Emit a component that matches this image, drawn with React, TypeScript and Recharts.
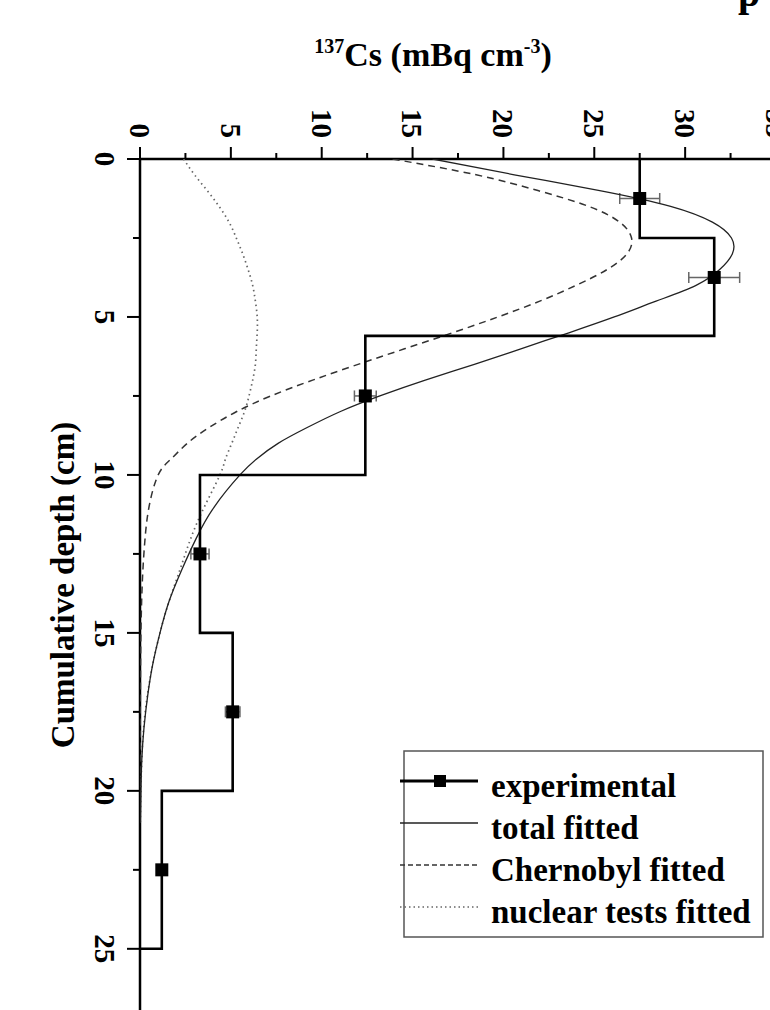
import React from "react";
import { ScatterChart, Scatter, XAxis, YAxis, ErrorBar } from "recharts";

// measured layers (cm) and 137Cs activity (mBq cm-3)
const LAYER_TOPS = [0, 2.5, 5.6, 10, 15, 20];
const LAYER_BOTTOMS = [2.5, 5.6, 10, 15, 20, 25];
const LAYER_ACTIVITY = [27.5, 31.6, 12.4, 3.3, 5.1, 1.2];
const SAMPLE_DEPTH = [1.25, 3.75, 7.5, 12.5, 17.5, 22.5];
const SAMPLE_ERROR = [1.1, 1.4, 0.6, 0.5, 0.4, 0.2];

// fitted profiles
const FIT_DEPTH = [
  0, 0.5, 1, 1.5, 2, 2.5, 3, 3.5, 4, 4.5, 5, 5.5, 6, 6.5, 7, 7.5, 8, 8.5, 9,
  9.5, 10, 11, 12, 13, 14, 15, 16, 17, 18, 19, 20, 21,
];
const TOTAL_FIT = [
  16.1, 20.6, 25.3, 29.2, 31.5, 32.55, 32.6, 31.9, 30.6, 28.4, 26.1, 23.6, 21.0,
  18.4, 15.7, 13.2, 11.0, 9.2, 7.6, 6.4, 5.5, 4.1, 3.1, 2.3, 1.6, 1.1, 0.7,
  0.42, 0.22, 0.1, 0.05, 0.02,
];
const CHERNOBYL_FIT = [
  13.9, 18.5, 21.9, 24.7, 26.4, 27.05, 26.8, 25.7, 24.0, 22.0, 19.7, 17.2,
  14.6, 12.0, 9.5, 7.2, 5.3, 3.8, 2.6, 1.7, 1.0, 0.5, 0.28, 0.16, 0.09, 0.05,
  0.03, 0.02, 0.01, 0.01, 0.01, 0.01,
];
const NUCLEAR_FIT = [
  2.4, 3.0, 3.7, 4.35, 4.9, 5.3, 5.65, 5.95, 6.2, 6.35, 6.45, 6.45, 6.4, 6.35,
  6.2, 6.0, 5.75, 5.4, 5.05, 4.7, 4.4, 3.55, 2.8, 2.2, 1.6, 1.1, 0.7, 0.4, 0.2,
  0.1, 0.05, 0.02,
];

const X_TICKS = [0, 2.5, 5, 7.5, 10, 12.5, 15, 17.5, 20, 22.5, 25, 27.5, 30, 32.5, 35];
const Y_TICKS = [0, 2.5, 5, 7.5, 10, 12.5, 15, 17.5, 20, 22.5, 25];

const LEGEND_NAMES = [
  "experimental",
  "total fitted",
  "Chernobyl fitted",
  "nuclear tests fitted",
];

const FONT = '"Liberation Serif", "Times New Roman", serif';

const stepData: { cs: number; depth: number }[] = [];
LAYER_ACTIVITY.forEach((a, i) => {
  stepData.push({ cs: a, depth: LAYER_TOPS[i] });
  stepData.push({ cs: a, depth: LAYER_BOTTOMS[i] });
});
stepData.push({ cs: 0, depth: LAYER_BOTTOMS[LAYER_BOTTOMS.length - 1] });

const pointData = LAYER_ACTIVITY.map((a, i) => ({
  cs: a,
  depth: SAMPLE_DEPTH[i],
  err: SAMPLE_ERROR[i],
}));

const fit = (vals: number[]) =>
  FIT_DEPTH.map((d, i) => ({ cs: vals[i], depth: d }));

const TopTick = (props: any) => {
  const { x, y, payload } = props;
  const major = payload.value % 5 === 0;
  return (
    <g>
      <line x1={x} y1={y} x2={x} y2={y - (major ? 12 : 6)} stroke="#000" strokeWidth={2} />
      {major && (
        <text
          transform={`translate(${x},${y - 21}) rotate(90)`}
          textAnchor="end"
          dy="0.35em"
          fontSize={29}
          fontWeight="bold"
          fontFamily={FONT}
          fill="#000"
        >
          {payload.value}
        </text>
      )}
    </g>
  );
};

const LeftTick = (props: any) => {
  const { x, y, payload } = props;
  const major = payload.value % 5 === 0;
  return (
    <g>
      <line x1={x} y1={y} x2={x - (major ? 13 : 7)} y2={y} stroke="#000" strokeWidth={2} />
      {major && (
        <text
          transform={`translate(${x - 35},${y}) rotate(90)`}
          textAnchor="middle"
          dy="0.35em"
          fontSize={29}
          fontWeight="bold"
          fontFamily={FONT}
          fill="#000"
        >
          {payload.value}
        </text>
      )}
    </g>
  );
};

const noDot = () => <g />;
const square = (p: any) => (
  <rect x={p.cx - 6.5} y={p.cy - 6.5} width={13} height={13} fill="#000" />
);

const legendStyles = [
  { stroke: "#000", strokeWidth: 3, dash: undefined },
  { stroke: "#222", strokeWidth: 1.3, dash: undefined },
  { stroke: "#333", strokeWidth: 1.3, dash: "5 3" },
  { stroke: "#666", strokeWidth: 1.6, dash: "1.5 3" },
];

export default function App() {
  return (
    <div
      style={{
        position: "absolute",
        left: 0,
        top: 0,
        width: 770,
        height: 1010,
        overflow: "hidden",
        background: "#fff",
      }}
    >
      <ScatterChart
        width={800}
        height={1040}
        margin={{ top: 0, right: 24, bottom: 28, left: 0 }}
      >
        <XAxis
          type="number"
          dataKey="cs"
          orientation="top"
          height={159}
          domain={[0, 35]}
          allowDataOverflow
          ticks={X_TICKS}
          interval={0}
          tickSize={0}
          tickMargin={0}
          tickLine={false}
          tick={<TopTick />}
          axisLine={{ stroke: "#000", strokeWidth: 2.5 }}
        />
        <YAxis
          type="number"
          dataKey="depth"
          width={140}
          reversed
          domain={[0, 27]}
          allowDataOverflow
          ticks={Y_TICKS}
          interval={0}
          tickSize={0}
          tickMargin={0}
          tickLine={false}
          tick={<LeftTick />}
          axisLine={{ stroke: "#000", strokeWidth: 2.5 }}
        />
        <Scatter
          name="nuclear tests fitted"
          data={fit(NUCLEAR_FIT)}
          line={{ stroke: "#666", strokeWidth: 1.7, strokeDasharray: "1.5 3.5" }}
          lineJointType="natural"
          shape={noDot}
          isAnimationActive={false}
        />
        <Scatter
          name="Chernobyl fitted"
          data={fit(CHERNOBYL_FIT)}
          line={{ stroke: "#333", strokeWidth: 1.5, strokeDasharray: "7 5" }}
          lineJointType="natural"
          shape={noDot}
          isAnimationActive={false}
        />
        <Scatter
          name="total fitted"
          data={fit(TOTAL_FIT)}
          line={{ stroke: "#222", strokeWidth: 1.3 }}
          lineJointType="natural"
          shape={noDot}
          isAnimationActive={false}
        />
        <Scatter
          name="experimental steps"
          data={stepData}
          line={{ stroke: "#000", strokeWidth: 2.6 }}
          lineJointType="linear"
          shape={noDot}
          isAnimationActive={false}
        />
        <Scatter
          name="experimental"
          data={pointData}
          shape={square}
          fill="#000"
          isAnimationActive={false}
        >
          <ErrorBar dataKey="err" direction="x" width={5.5} stroke="#666" strokeWidth={1.5} />
        </Scatter>
      </ScatterChart>

      <svg
        width={770}
        height={1010}
        style={{ position: "absolute", left: 0, top: 0, pointerEvents: "none" }}
        fontFamily={FONT}
        fontWeight="bold"
      >
        <text x={738} y={6} fontSize={40}>
          p
        </text>
        <text x={433} y={66} textAnchor="middle" fontSize={34}>
          <tspan fontSize={20} dy={-13}>
            137
          </tspan>
          <tspan dy={13}>Cs (mBq cm</tspan>
          <tspan fontSize={20} dy={-13}>
            -3
          </tspan>
          <tspan dy={13}>)</tspan>
        </text>
        <text
          transform="translate(62,585) rotate(-90)"
          textAnchor="middle"
          dy="0.35em"
          fontSize={33}
        >
          Cumulative depth (cm)
        </text>

        <rect x={404} y={751} width={359} height={186} fill="#fff" stroke="#555" strokeWidth={1.5} />
        {LEGEND_NAMES.map((name, i) => {
          const ly = 781 + i * 42;
          const s = legendStyles[i];
          return (
            <g key={name}>
              <line
                x1={400}
                x2={478}
                y1={ly}
                y2={ly}
                stroke={s.stroke}
                strokeWidth={s.strokeWidth}
                strokeDasharray={s.dash}
              />
              {i === 0 && <rect x={434} y={ly - 6} width={12} height={12} fill="#000" />}
              <text x={491} y={ly + 16} fontSize={33}>
                {name}
              </text>
            </g>
          );
        })}
      </svg>
    </div>
  );
}
